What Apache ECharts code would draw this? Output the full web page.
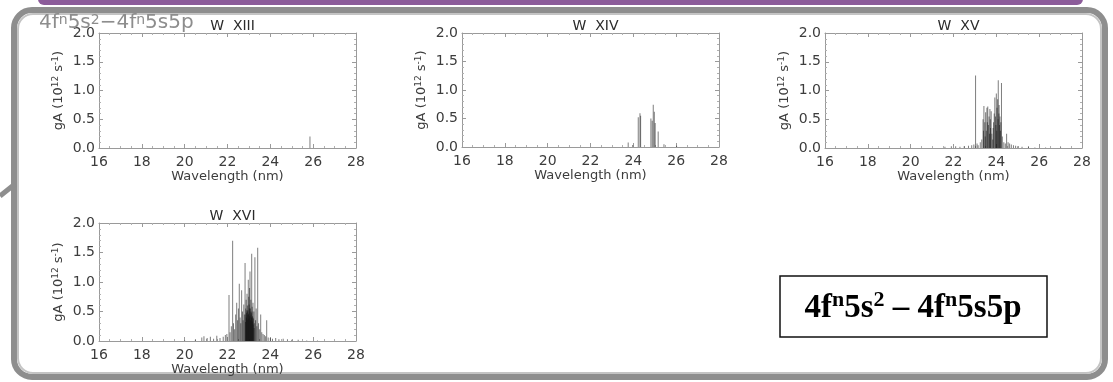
<!DOCTYPE html>
<html>
<head>
<meta charset="utf-8">
<script src="https://cdn.jsdelivr.net/npm/echarts@6/dist/echarts.min.js"></script>
<style>
  html, body { margin: 0; padding: 0; background: #ffffff; }
  #chart { width: 1113px; height: 382px; }
</style>
</head>
<body>
<div id="chart"></div>
<script>
// ---- Data (wavelength in nm, gA in 10^12 s^-1) ----
const panelTitles = ['W  XIII', 'W  XIV', 'W  XV', 'W  XVI'];
const xTicks = [16, 18, 20, 22, 24, 26, 28];
const yTicks = [0.0, 0.5, 1.0, 1.5, 2.0];

const wl13 = [25.85];
const ga13 = [0.20];

const wl14 = [23.76, 23.97, 24.23, 24.31, 24.34, 24.82, 24.88, 24.93, 24.98, 25.02, 25.16, 25.43, 26.02];
const ga14 = [0.08, 0.035, 0.52, 0.59, 0.55, 0.50, 0.46, 0.74, 0.62, 0.42, 0.27, 0.05, 0.02];

const wl15 = [21.6, 21.9, 22.1, 22.3, 22.5, 22.7, 22.85, 22.95, 23.03, 23.10, 23.15, 23.25, 23.32,
  23.38, 23.40, 23.42, 23.46, 23.48, 23.50, 23.53, 23.56, 23.58, 23.60, 23.63, 23.66, 23.68, 23.70,
  23.72, 23.73, 23.76, 23.79, 23.83, 23.85, 23.87, 23.90, 23.93, 23.96, 23.98, 24.00, 24.02, 24.03,
  24.06, 24.08, 24.09, 24.12, 24.13, 24.15, 24.17, 24.19, 24.21, 24.24, 24.28, 24.35, 24.42, 24.48,
  24.55, 24.62, 24.70, 24.80, 24.90, 25.0, 25.2, 25.5, 25.8, 26.3, 27.0];
const ga15 = [0.02, 0.03, 0.03, 0.02, 0.03, 0.04, 0.05, 0.06, 1.26, 0.08, 0.05, 0.10, 0.15,
  0.50, 0.30, 0.73, 0.45, 0.20, 0.62, 0.30, 0.70, 0.45, 0.72, 0.40, 0.55, 0.25, 0.68,
  0.50, 0.35, 0.64, 0.25, 0.15, 0.35, 0.45, 0.60, 0.88, 0.55, 0.40, 0.95, 0.30, 0.70,
  0.85, 0.50, 1.18, 0.60, 0.75, 0.40, 0.55, 0.30, 0.45, 1.13, 0.20, 0.10, 0.08, 0.25,
  0.10, 0.08, 0.06, 0.05, 0.04, 0.03, 0.02, 0.02, 0.01, 0.01, 0.01];

const wl16 = [20.0, 20.5, 20.8, 20.9, 21.05, 21.2, 21.35, 21.5, 21.65, 21.8, 21.9, 21.97,
  22.07, 22.12, 22.18, 22.24, 22.28, 22.33, 22.38, 22.43, 22.47, 22.51, 22.55, 22.59, 22.62,
  22.66, 22.70, 22.73, 22.76, 22.79, 22.82, 22.84, 22.85, 22.86, 22.87, 22.88, 22.89, 22.90, 22.91, 22.92,
  22.93, 22.94, 22.95, 22.96, 22.97, 22.98, 22.99, 23.00, 23.01, 23.02, 23.03, 23.04, 23.05, 23.06, 23.07, 23.08, 23.09,
  23.10, 23.11, 23.12, 23.13, 23.14, 23.15, 23.16, 23.17, 23.18, 23.19, 23.20, 23.21, 23.23, 23.24, 23.25, 23.28,
  23.31, 23.34, 23.37, 23.41, 23.45, 23.50, 23.55, 23.60, 23.66, 23.72, 23.78, 23.83, 23.90,
  24.0, 24.1, 24.25, 24.4, 24.6, 24.8, 25.0, 25.3, 25.7, 26.2];
const ga16 = [0.01, 0.02, 0.06, 0.08, 0.05, 0.07, 0.04, 0.09, 0.05, 0.07, 0.10, 0.12,
  0.78, 0.15, 0.25, 1.70, 0.30, 0.20, 0.45, 0.65, 0.35, 0.55, 0.97, 0.40, 0.30,
  0.86, 0.50, 0.35, 0.62, 0.45, 1.32, 0.32, 0.55, 0.45, 0.70, 0.40, 0.48, 0.52, 0.80, 0.36,
  0.60, 0.50, 0.52, 0.44, 1.04, 0.46, 0.75, 0.38, 0.62, 0.55, 0.90, 0.42, 1.18, 0.50, 0.55, 0.35, 0.70,
  0.45, 0.48, 0.40, 1.48, 0.50, 0.58, 0.33, 0.42, 0.40, 0.65, 0.28, 0.38, 0.50, 0.22, 0.30, 1.42,
  0.35, 0.55, 0.25, 1.58, 0.30, 0.20, 0.45, 0.15, 0.12, 0.10, 0.08, 0.35, 0.06,
  0.05, 0.04, 0.05, 0.03, 0.04, 0.03, 0.02, 0.02, 0.01, 0.01];

const spectra = [[wl13, ga13], [wl14, ga14], [wl15, ga15], [wl16, ga16]];

// ---- Layout ----
const grids = [
  { left: 99, top: 33, width: 257, height: 115 },
  { left: 462, top: 33, width: 257, height: 114 },
  { left: 825, top: 33, width: 257, height: 115 },
  { left: 99, top: 223, width: 257, height: 118 }
];

const axisColor = '#9a9a9a';
const labelColor = '#3c3c3c';
const font = 'DejaVu Sans';

const xAxes = [], yAxes = [], series = [], titles = [];

grids.forEach((g, i) => {
  const common = {
    gridIndex: i,
    type: 'value',
    axisLine: { show: true, onZero: false, lineStyle: { color: axisColor, width: 1 } },
    axisTick: { show: true, inside: true, length: 4, lineStyle: { color: axisColor } },
    minorTick: { show: true, length: 2, lineStyle: { color: '#b0b0b0' } },
    splitLine: { show: false },
    minorSplitLine: { show: false }
  };
  const xr = { min: xTicks[0], max: xTicks[xTicks.length - 1], interval: 2 };
  const yr = { min: yTicks[0], max: yTicks[yTicks.length - 1], interval: 0.5 };
  xAxes.push(Object.assign({}, common, xr, {
    position: 'bottom',
    minorTick: Object.assign({}, common.minorTick, { splitNumber: 4 }),
    axisLabel: { margin: 7, color: labelColor, fontFamily: font, fontSize: 14 },
    name: 'Wavelength (nm)', nameLocation: 'middle', nameGap: 22,
    nameTextStyle: { color: labelColor, fontFamily: font, fontSize: 13 }
  }));
  xAxes.push(Object.assign({}, common, xr, {
    position: 'top',
    minorTick: Object.assign({}, common.minorTick, { splitNumber: 4 }),
    axisLabel: { show: false }
  }));
  yAxes.push(Object.assign({}, common, yr, {
    position: 'left',
    minorTick: Object.assign({}, common.minorTick, { splitNumber: 5 }),
    axisLabel: { margin: 4, color: labelColor, fontFamily: font, fontSize: 14,
      formatter: v => v.toFixed(1) },
    name: 'gA (10{sup|12} s{sup|-1})', nameLocation: 'middle', nameRotate: 90, nameGap: 32,
    nameTextStyle: { color: labelColor, fontFamily: font, fontSize: 13,
      rich: { sup: { fontSize: 9, fontFamily: font, color: labelColor, verticalAlign: 'top', lineHeight: 16 } } }
  }));
  yAxes.push(Object.assign({}, common, yr, {
    position: 'right',
    minorTick: Object.assign({}, common.minorTick, { splitNumber: 5 }),
    axisLabel: { show: false }
  }));

  const [wl, ga] = spectra[i];
  series.push({
    type: 'bar',
    xAxisIndex: 2 * i,
    yAxisIndex: 2 * i,
    barWidth: 1,
    silent: true,
    itemStyle: { color: 'rgba(20,20,20,0.55)' },
    data: wl.map((w, k) => [w, ga[k]])
  });

  titles.push({
    text: panelTitles[i],
    left: g.left + g.width / 2,
    top: g.top - 19,
    textAlign: 'center',
    textStyle: { color: '#2a2a2a', fontFamily: font, fontSize: 14, fontWeight: 'normal' }
  });
});

// overall transition label (top-left, gray)
titles.push({
  text: '4f{sup|n}5s{sup|2}\u22124f{sup|n}5s5p',
  left: 34, top: 8,
  textStyle: {
    color: '#8d8d8d', fontFamily: font, fontSize: 20, fontWeight: 'normal',
    rich: { sup: { fontSize: 14, color: '#8d8d8d', fontFamily: font, verticalAlign: 'top', lineHeight: 20 } }
  }
});

const chart = echarts.init(document.getElementById('chart'), null, { renderer: 'canvas' });
chart.setOption({
  animation: false,
  backgroundColor: '#ffffff',
  title: titles,
  grid: grids,
  xAxis: xAxes,
  yAxis: yAxes,
  series: series,
  graphic: [
    { type: 'rect', z: -1, shape: { x: 38, y: -8, width: 1045, height: 13, r: 6 },
      style: { fill: '#8c5c9a' } },
    { type: 'rect', z: 0, shape: { x: 14, y: 10, width: 1091, height: 367, r: 18 },
      style: { fill: 'none', stroke: '#8e8e8e', lineWidth: 6 } },
    { type: 'rect', z: 0, shape: { x: 18, y: 14, width: 1083, height: 359, r: 15 },
      style: { fill: 'none', stroke: '#c4c4c4', lineWidth: 2 } },
    { type: 'line', z: 0, shape: { x1: 0, y1: 196, x2: 15, y2: 184 },
      style: { stroke: '#8e8e8e', lineWidth: 5 } },
    { type: 'rect', z: 5, shape: { x: 780, y: 276, width: 267, height: 61 },
      style: { fill: '#ffffff', stroke: '#111111', lineWidth: 1.5 } },
    { type: 'text', z: 6, x: 913, y: 307,
      style: {
        text: '{n|4f}{s|n}{n|5s}{s|2}{n| \u2013 4f}{s|n}{n|5s5p}',
        align: 'center', verticalAlign: 'middle',
        rich: {
          n: { fontFamily: 'Liberation Serif', fontWeight: 'bold', fontSize: 33, fill: '#000', lineHeight: 36, verticalAlign: 'bottom' },
          s: { fontFamily: 'Liberation Serif', fontWeight: 'bold', fontSize: 22, fill: '#000', lineHeight: 36, verticalAlign: 'top' }
        }
      }
    }
  ]
});
</script>
</body>
</html>
